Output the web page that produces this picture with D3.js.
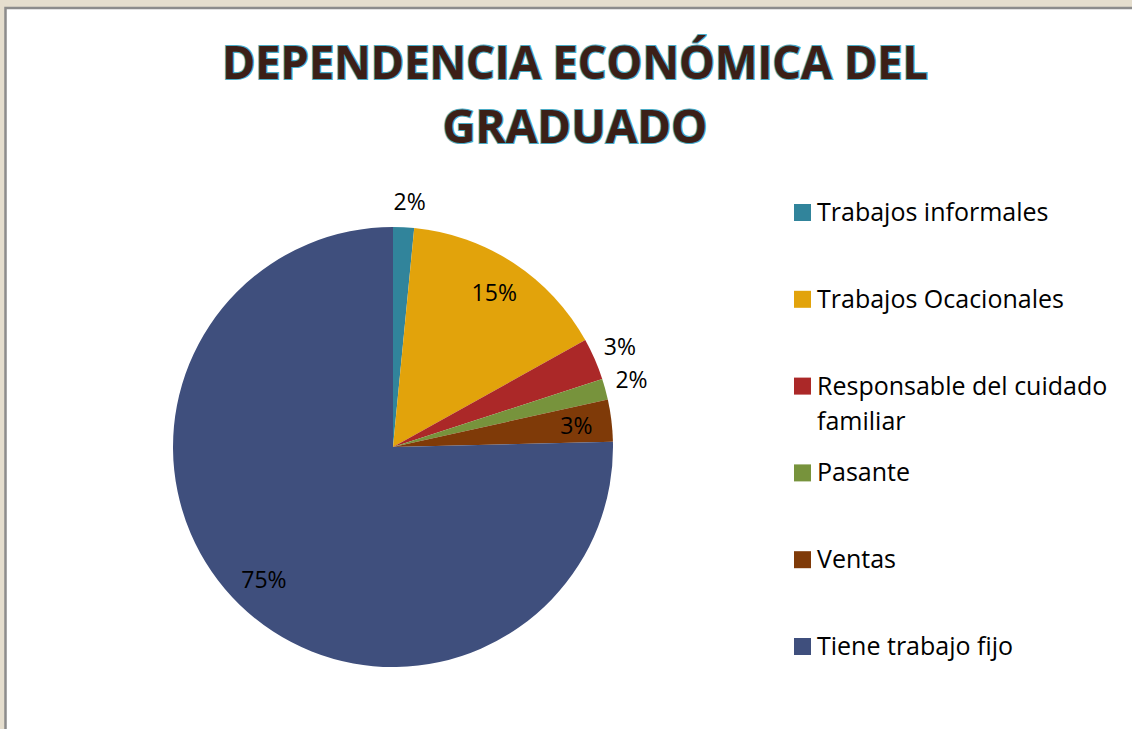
<!DOCTYPE html>
<html>
<head>
<meta charset="utf-8">
<script src="https://cdn.jsdelivr.net/npm/d3@7"></script>
<style>
  html, body { margin: 0; padding: 0; background: #e5dece; overflow: hidden; }
  svg { display: block; }
</style>
</head>
<body>
<div id="chartContainer"></div>
<script>
// data (counts, 65 in total)
const categories = ["Trabajos informales", "Trabajos Ocacionales", "Responsable del cuidado familiar", "Pasante", "Ventas", "Tiene trabajo fijo"];
const counts = [1, 10, 2, 1, 2, 49];
const sliceColors = ["#31849b", "#e2a30b", "#ab2828", "#77933c", "#7f3a08", "#3f4f7d"];
const titleLines = ["DEPENDENCIA ECONÓMICA DEL", "GRADUADO"];

// which percent labels Excel put outside the slice
const labelOutside = [true, false, true, true, false, false];

const W = 1132, H = 729;
const cx = 393, cy = 447, R = 220;
const font = "'Open Sans', 'DejaVu Sans', sans-serif";

const svg = d3.select("#chartContainer").append("svg")
  .attr("width", W)
  .attr("height", H);

// page background + chart area with grey frame
svg.append("rect").attr("width", W).attr("height", H).attr("fill", "#e5dece");
svg.append("rect")
  .attr("x", 5.5).attr("y", 8)
  .attr("width", W + 20).attr("height", H + 20)
  .attr("fill", "#ffffff")
  .attr("stroke", "#8c8c8c")
  .attr("stroke-width", 2.5);

// title
const title = svg.append("g");
title.selectAll("text")
  .data(titleLines)
  .enter()
  .append("text")
  .attr("x", 575)
  .attr("y", (d, i) => 79 + i * 64)
  .attr("text-anchor", "middle")
  .attr("font-family", font)
  .attr("font-weight", "bold")
  .attr("font-size", 47)
  .attr("textLength", (d, i) => i === 0 ? 706 : 265)
  .attr("lengthAdjust", "spacingAndGlyphs")
  .attr("fill", "#3c1f17")
  .attr("stroke", "#4bacc6")
  .attr("stroke-width", 2.2)
  .attr("paint-order", "stroke")
  .text(d => d);

// pie
const total = d3.sum(counts);
const pct = d3.format(".0%");
const pie = d3.pie().sort(null).value(d => d)(counts);
const arc = d3.arc().innerRadius(0).outerRadius(R);
const inLabel = d3.arc().innerRadius(R * 0.84).outerRadius(R * 0.84);
const outLabel = d3.arc().innerRadius(R + 22).outerRadius(R + 22);

const g = svg.append("g").attr("transform", `translate(${cx}, ${cy})`);

g.selectAll("path")
  .data(pie)
  .enter()
  .append("path")
  .attr("d", arc)
  .attr("fill", (d, i) => sliceColors[i]);

g.selectAll("text")
  .data(pie)
  .enter()
  .append("text")
  .attr("transform", (d, i) => {
    const [x, y] = (labelOutside[i] ? outLabel : inLabel).centroid(d);
    // outside labels sit a little to the right, like Excel's best fit
    return labelOutside[i] ? `translate(${x + 5}, ${y - 4})` : `translate(${x}, ${y})`;
  })
  .attr("text-anchor", "middle")
  .attr("dominant-baseline", "central")
  .attr("font-family", font)
  .attr("font-size", 23)
  .attr("fill", "#000")
  .text(d => pct(d.data / total));

// legend
const legend = svg.append("g").attr("transform", "translate(794, 0)");
const rowY = i => 221 + i * 86.8;

const item = legend.selectAll("g")
  .data(categories)
  .enter()
  .append("g")
  .attr("transform", (d, i) => `translate(0, ${rowY(i)})`);

item.append("rect")
  .attr("x", 0).attr("y", -17)
  .attr("width", 17).attr("height", 17)
  .attr("fill", (d, i) => sliceColors[i]);

item.append("text")
  .attr("font-family", font)
  .attr("font-size", 25)
  .attr("fill", "#000")
  .each(function (d) {
    // wrap long names on two lines like the reference
    const t = d3.select(this);
    const words = d.split(" ");
    let line = [], lines = [];
    const probe = t.append("tspan");
    words.forEach(w => {
      probe.text([...line, w].join(" "));
      if (probe.node().getComputedTextLength() > 305 && line.length) {
        lines.push(line.join(" "));
        line = [w];
      } else {
        line.push(w);
      }
    });
    lines.push(line.join(" "));
    probe.remove();
    lines.forEach((l, k) => {
      t.append("tspan").attr("x", 23).attr("y", k * 35).text(l);
    });
  });
</script>
</body>
</html>
